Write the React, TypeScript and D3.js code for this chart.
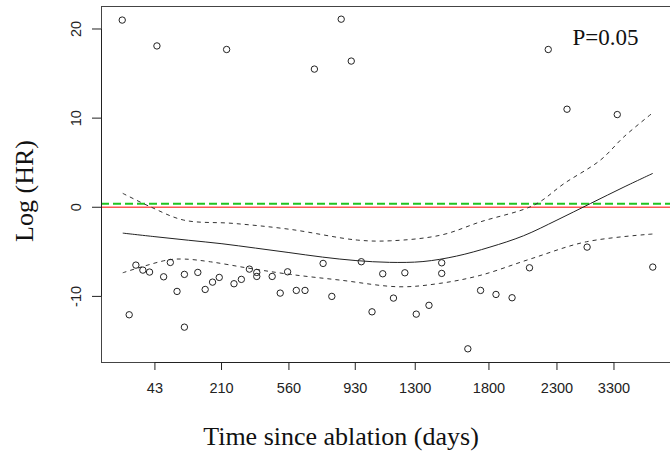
import React, { useRef, useEffect } from "react";
import * as d3 from "d3";

// transformed time (axis units) and scaled Schoenfeld residuals
const pointsX = [
  0.512, 1.03, 2.07, 3.38, 3.78, 3.93, 6.87, 7.15, 7.9,
  0.716, 0.82, 0.92, 0.616, 1.13, 1.23, 1.33, 1.44, 1.44, 1.64, 1.75, 1.86, 1.96,
  2.18, 2.29, 2.41, 2.52, 2.52, 2.75, 2.87, 2.98,
  3.11, 3.24, 3.51, 3.64, 4.08, 4.24, 4.4, 4.56, 4.73, 4.9, 5.09, 5.28, 5.28, 5.67, 5.86,
  6.09, 6.33, 6.59, 7.45, 8.43,
];
const pointsY = [
  21.0, 18.1, 17.7, 15.5, 21.1, 16.4, 17.7, 11.0, 10.4,
  -6.49, -7.05, -7.27, -12.06, -7.8, -6.19, -9.44, -7.53, -13.45, -7.31, -9.22, -8.4, -7.87,
  -8.58, -8.09, -6.94, -7.31, -7.76, -7.76, -9.63, -7.24,
  -9.33, -9.33, -6.3, -10.0, -6.11, -11.73, -7.46, -10.19, -7.35, -11.99, -11.0, -6.23, -7.42, -15.88, -9.33,
  -9.78, -10.15, -6.79, -4.47, -6.71,
];

// smoothed fit and confidence band
const fitX = [0.52, 1.0, 1.5, 2.0, 2.5, 3.0, 3.5, 4.0, 4.5, 5.0, 5.5, 6.0, 6.5, 7.0, 7.5, 8.0, 8.43];
const fitY = [-2.9, -3.3, -3.7, -4.09, -4.58, -5.08, -5.59, -5.98, -6.18, -6.09, -5.48, -4.47, -3.2, -1.44, 0.42, 2.27, 3.8];
const upperX = [0.52, 0.93, 1.43, 2.17, 3.02, 4.02, 4.52, 5.27, 5.86, 6.66, 7.11, 7.65, 8.0, 8.42];
const upperY = [1.56, 0.06, -1.44, -1.81, -2.48, -3.68, -3.76, -3.12, -1.63, 0.25, 2.68, 5.3, 7.91, 10.54];
const lowerX = [0.52, 1.18, 1.43, 1.83, 2.42, 3.02, 3.76, 4.65, 5.25, 5.85, 6.6, 7.44, 8.43];
const lowerY = [-7.35, -5.93, -5.81, -6.12, -6.86, -7.53, -8.17, -8.92, -8.54, -7.65, -5.81, -3.87, -3.0];

const xTickPos = [1.0, 1.994, 3.0, 3.99, 4.885, 5.985, 7.0, 7.851];
const xTickLabels = ["43", "210", "560", "930", "1300", "1800", "2300", "3300"];
const yTicks = [-10, 0, 10, 20];
const coefLine = 0.39;
const pLabel = "P=0.05";

const App = () => {
  const ref = useRef<SVGSVGElement | null>(null);
  const W = 670;
  const H = 453;
  const left = 101, right = 674, top = 6, bottom = 362;

  useEffect(() => {
    const svg = d3.select(ref.current);
    svg.selectAll("*").remove();

    const pad = (ext: number[]) => {
      const r = ext[1] - ext[0];
      return [ext[0] - 0.04 * r, ext[1] + 0.04 * r];
    };
    const x = d3.scaleLinear().domain(pad(d3.extent(pointsX) as number[])).range([left, right]);
    const y = d3.scaleLinear().domain(pad(d3.extent(pointsY) as number[])).range([bottom, top]);

    const sans = "'Liberation Sans', Arial, sans-serif";
    const serif = "'Liberation Serif', 'Times New Roman', serif";

    // box
    svg.append("rect")
      .attr("x", left + 0.5).attr("y", top + 0.5)
      .attr("width", right - left).attr("height", bottom - top)
      .attr("fill", "none").attr("stroke", "#444").attr("stroke-width", 1);

    // reference lines
    svg.append("line")
      .attr("x1", left).attr("x2", right)
      .attr("y1", y(0)).attr("y2", y(0))
      .attr("stroke", "#ff5555").attr("stroke-width", 1.3);
    svg.append("line")
      .attr("x1", left).attr("x2", right)
      .attr("y1", y(coefLine)).attr("y2", y(coefLine))
      .attr("stroke", "#22c422").attr("stroke-width", 2)
      .attr("stroke-dasharray", "8,4");

    const line = d3.line<[number, number]>()
      .x((d) => x(d[0])).y((d) => y(d[1]))
      .curve(d3.curveCatmullRom.alpha(0.5));

    svg.append("path")
      .attr("d", line(fitX.map((v, i) => [v, fitY[i]]) as [number, number][]))
      .attr("fill", "none").attr("stroke", "#222").attr("stroke-width", 1);
    [[upperX, upperY], [lowerX, lowerY]].forEach(([xs, ys]) => {
      svg.append("path")
        .attr("d", line(xs.map((v, i) => [v, ys[i]]) as [number, number][]))
        .attr("fill", "none").attr("stroke", "#333").attr("stroke-width", 1)
        .attr("stroke-dasharray", "4,4");
    });

    // points
    svg.append("g").selectAll("circle")
      .data(pointsX.map((v, i) => [v, pointsY[i]]))
      .enter().append("circle")
      .attr("cx", (d) => x(d[0])).attr("cy", (d) => y(d[1]))
      .attr("r", 3.2)
      .attr("fill", "none").attr("stroke", "#222").attr("stroke-width", 1);

    // x axis
    const xa = svg.append("g");
    xa.append("line")
      .attr("x1", x(xTickPos[0])).attr("x2", x(xTickPos[xTickPos.length - 1]))
      .attr("y1", bottom + 0.5).attr("y2", bottom + 0.5)
      .attr("stroke", "#222");
    xTickPos.forEach((t, i) => {
      xa.append("line")
        .attr("x1", x(t)).attr("x2", x(t))
        .attr("y1", bottom).attr("y2", bottom + 8)
        .attr("stroke", "#222");
      xa.append("text")
        .attr("x", x(t)).attr("y", 393)
        .attr("text-anchor", "middle")
        .attr("font-family", sans).attr("font-size", 14.5)
        .attr("fill", "#222")
        .text(xTickLabels[i]);
    });

    // y axis
    const ya = svg.append("g");
    ya.append("line")
      .attr("x1", left + 0.5).attr("x2", left + 0.5)
      .attr("y1", y(yTicks[0])).attr("y2", y(yTicks[yTicks.length - 1]))
      .attr("stroke", "#222");
    yTicks.forEach((t) => {
      ya.append("line")
        .attr("x1", left - 9).attr("x2", left)
        .attr("y1", y(t)).attr("y2", y(t))
        .attr("stroke", "#222");
      ya.append("text")
        .attr("transform", `translate(80.5,${y(t)}) rotate(-90)`)
        .attr("text-anchor", "middle")
        .attr("font-family", sans).attr("font-size", 14.5)
        .attr("fill", "#222")
        .text(String(t));
    });

    // titles
    svg.append("text")
      .attr("x", 341).attr("y", 445)
      .attr("text-anchor", "middle")
      .attr("font-family", serif).attr("font-size", 26)
      .attr("fill", "#111")
      .text("Time since ablation (days)");
    svg.append("text")
      .attr("transform", "translate(33,191) rotate(-90)")
      .attr("text-anchor", "middle")
      .attr("font-family", serif).attr("font-size", 26)
      .attr("fill", "#111")
      .text("Log (HR)");
    svg.append("text")
      .attr("x", 572.5).attr("y", 44.5)
      .attr("font-family", serif).attr("font-size", 23)
      .attr("fill", "#111")
      .text(pLabel);
  }, []);

  return (
    <svg
      ref={ref}
      width={W}
      height={H}
      style={{ position: "absolute", left: 0, top: 0, background: "#fff" }}
    />
  );
};

export default App;
